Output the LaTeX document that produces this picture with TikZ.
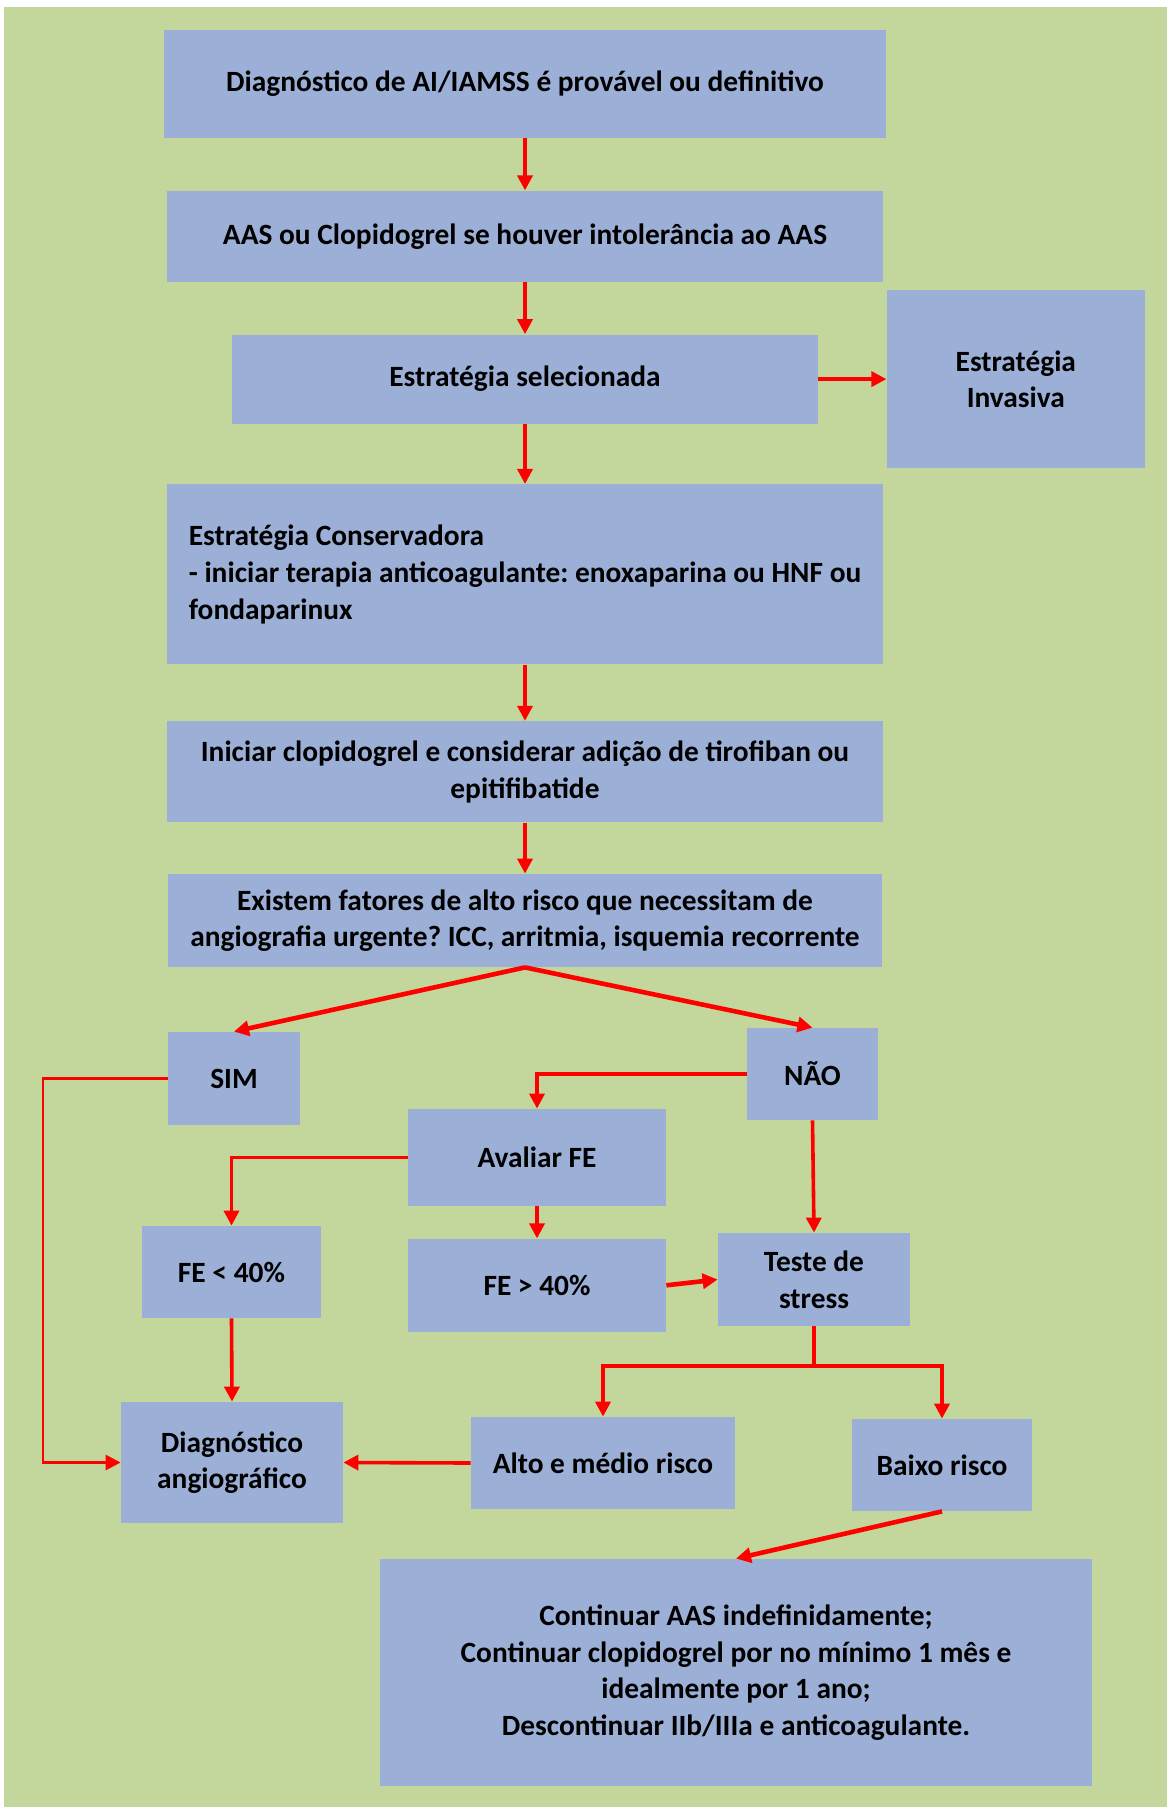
\documentclass[tikz,border=0pt]{standalone}
\usepackage{fontspec}
\setmainfont{Carlito}
\usepackage{tikz}
\usetikzlibrary{positioning,arrows.meta}
\definecolor{bggreen}{HTML}{C3D69B}
\definecolor{boxblue}{HTML}{9CB0D7}

\begin{document}
\begin{tikzpicture}[x=0.5pt,y=-0.5pt,
	box node/.style={fill=boxblue, inner sep=0pt, align=center, font=\frenchspacing\bfseries\fontsize{14.7}{18.3}\selectfont},
	flow/.style={red, line width=1.8pt, -{Triangle[length=7.5pt,width=7.5pt]}},
	bold flow/.style={flow, line width=2.3pt},
	thin flow/.style={flow, line width=1.4pt}]

	\useasboundingbox (0,0) rectangle (1167,1807);
	\fill[bggreen] (4,7) rectangle (1167,1807);

	\node[box node, minimum width=361pt, minimum height=54pt](diag) at (525,84){Diagnóstico de AI/IAMSS é provável ou definitivo};
	\node[box node, minimum width=358pt, minimum height=45.5pt](aas)[below = 26pt of diag]{AAS ou Clopidogrel se houver intolerância ao AAS};
	\node[box node, minimum width=293pt, minimum height=44.5pt](sel)[below = 26pt of aas]{Estratégia selecionada};
		\node[box node, minimum width=129pt, minimum height=89pt](inv)[right = 34pt of sel]{Estratégia\\Invasiva};
	\node[box node, minimum width=358pt, minimum height=90pt, align=left](cons)[below = 30pt of sel]{Estratégia Conservadora\\- iniciar terapia anticoagulante: enoxaparina ou HNF ou\\fondaparinux};
	\node[box node, minimum width=358pt, minimum height=50.5pt](ini)[below = 28pt of cons]{Iniciar clopidogrel e considerar adição de tirofiban ou\\epitifibatide};
	\node[box node, minimum width=357pt, minimum height=46.5pt](risco)[below = 25.5pt of ini]{Existem fatores de alto risco que necessitam de\\angiografia urgente? ICC, arritmia, isquemia recorrente};

	\node[box node, minimum width=66pt, minimum height=46.5pt](sim) at (234,1078.5){SIM};
	\node[box node, minimum width=65.5pt, minimum height=46pt](nao) at (812.5,1074){NÃO};
	\node[box node, minimum width=129pt, minimum height=48.5pt](aval) at (537,1157.5){Avaliar FE};
		\node[box node, minimum width=129pt, minimum height=46.5pt](fealto)[below = 16pt of aval]{FE > 40\%};
		\node[box node, minimum width=89.5pt, minimum height=46pt](febaixo) at (231.5,1272){FE < 40\%};
	\node[box node, minimum width=96pt, minimum height=46.5pt](teste) at (814,1279.5){Teste de\\stress};
	\node[box node, minimum width=111pt, minimum height=60.5pt](angio) at (232,1462.5){Diagnóstico\\angiográfico};
	\node[box node, minimum width=132pt, minimum height=46pt](alto) at (603,1463){Alto e médio risco};
	\node[box node, minimum width=90pt, minimum height=46pt](baixo) at (942,1465){Baixo risco};
	\node[box node, minimum width=356pt, minimum height=113.5pt](fim) at (736,1672.5){Continuar AAS indefinidamente;\\Continuar clopidogrel por no mínimo 1 mês e\\idealmente por 1 ano;\\Descontinuar IIb/IIIa e anticoagulante.};

	\coordinate (simvolta) at (43,1078.5);
	\coordinate (divide) at (814,1366);

	\draw[flow] (diag) -- (aas);
	\draw[flow] (aas) -- (sel);
	\draw[flow] (sel) -- (inv);
	\draw[flow] (sel) -- (cons);
	\draw[flow] (cons) -- (ini);
	\draw[flow] (ini) -- (risco);
	\draw[bold flow] (risco.south) -- (sim.north);
	\draw[bold flow] (risco.south) -- (nao.north);
	\draw[thin flow] (sim.west) -- (simvolta) |- (angio.west);
	\draw[flow] (nao.west) -| (aval.north);
	\draw[flow] (nao.south) -- (teste.north);
	\draw[flow] (aval.west) -| (febaixo.north);
	\draw[flow] (aval.south) -- (fealto.north);
	\draw[bold flow] (fealto.east) -- (teste.west);
	\draw[flow] (febaixo.south) -- (angio.north);
	\draw[flow] (teste.south) -- (divide) -| (alto.north);
	\draw[flow] (divide) -| (baixo.north);
	\draw[flow] (alto.west) -- (angio.east);
	\draw[bold flow] (baixo.south) -- (fim.north);
\end{tikzpicture}
\end{document}
